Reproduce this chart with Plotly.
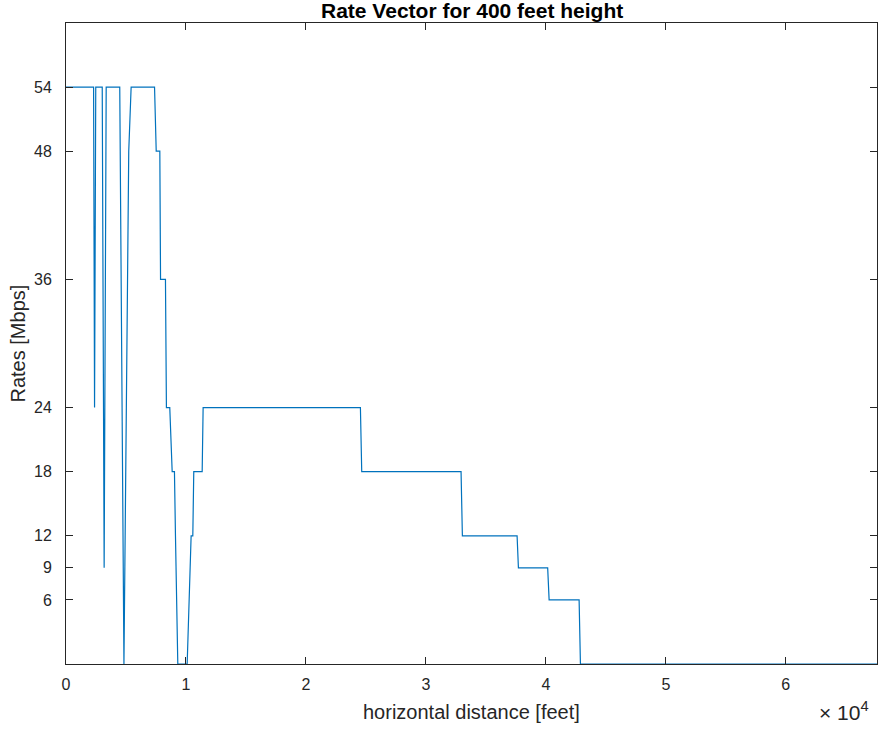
import plotly.graph_objects as go

# distance (feet) and rate (Mbps)
distance = [0, 2300, 2380, 2480, 3020, 3180, 3350, 4480, 4830, 5020, 5230, 5430,
            7380, 7520, 7820, 7880, 8290, 8370, 8650, 8850, 9040, 9125, 9320,
            10100, 10430, 10570, 10650, 11350, 11430, 24540, 24650, 32930, 33040,
            37600, 37710, 40150, 40270, 42770, 42880, 67600]
rate = [54, 54, 24, 54, 54, 9, 54, 54, 0, 24, 48, 54,
        54, 48, 48, 36, 36, 24, 24, 18, 18, 12, 0,
        0, 12, 12, 18, 18, 24, 24, 18, 18, 12,
        12, 9, 9, 6, 6, 0, 0]

x_tickvals = [0, 10000, 20000, 30000, 40000, 50000, 60000]
x_ticktext = ["0", "1", "2", "3", "4", "5", "6"]
y_tickvals = [6, 9, 12, 18, 24, 36, 48, 54]

title_text = "Rate Vector for 400 feet height"
x_title = "horizontal distance [feet]"
y_title = "Rates [Mbps]"

font_family = "Liberation Sans, Arial, Helvetica, sans-serif"
axis_color = "#262626"

fig = go.Figure()
fig.add_trace(go.Scatter(x=distance, y=rate, mode="lines",
                         line=dict(color="#0072BD", width=1.2),
                         showlegend=False, hoverinfo="skip"))

axis_common = dict(showline=True, mirror="allticks", linecolor=axis_color, linewidth=1,
                   ticks="inside", ticklen=7, tickcolor=axis_color, tickwidth=1,
                   showgrid=False, zeroline=False,
                   tickfont=dict(family=font_family, size=16, color=axis_color))

fig.update_layout(
    width=880, height=730,
    margin=dict(l=66, r=3, t=23, b=66),
    paper_bgcolor="white", plot_bgcolor="white",
    font=dict(family=font_family, color=axis_color),
    xaxis=dict(range=[0, 67600], tickvals=x_tickvals, ticktext=x_ticktext,
               ticklabelstandoff=6, **axis_common),
    yaxis=dict(range=[0, 60], tickvals=y_tickvals, ticklabelstandoff=10, **axis_common),
    annotations=[
        dict(text="<b>" + title_text + "</b>", xref="paper", yref="paper", x=0.5, y=1,
             yshift=-1, xanchor="center", yanchor="bottom", showarrow=False,
             font=dict(family=font_family, size=21, color="black")),
        dict(text=x_title, xref="paper", yref="paper", x=0.5, y=0, yshift=-35,
             xanchor="center", yanchor="top", showarrow=False,
             font=dict(family=font_family, size=20, color=axis_color)),
        dict(text=y_title, xref="paper", yref="paper", x=0, y=0.5, xshift=-36,
             xanchor="right", yanchor="middle", textangle=-90, showarrow=False,
             font=dict(family=font_family, size=20, color=axis_color)),
        dict(text="× 10<sup>4</sup>", xref="paper", yref="paper", x=1, y=0, yshift=-32,
             xshift=-6, xanchor="right", yanchor="top", showarrow=False,
             font=dict(family=font_family, size=21, color=axis_color)),
    ],
)

fig.write_html("out.html")
